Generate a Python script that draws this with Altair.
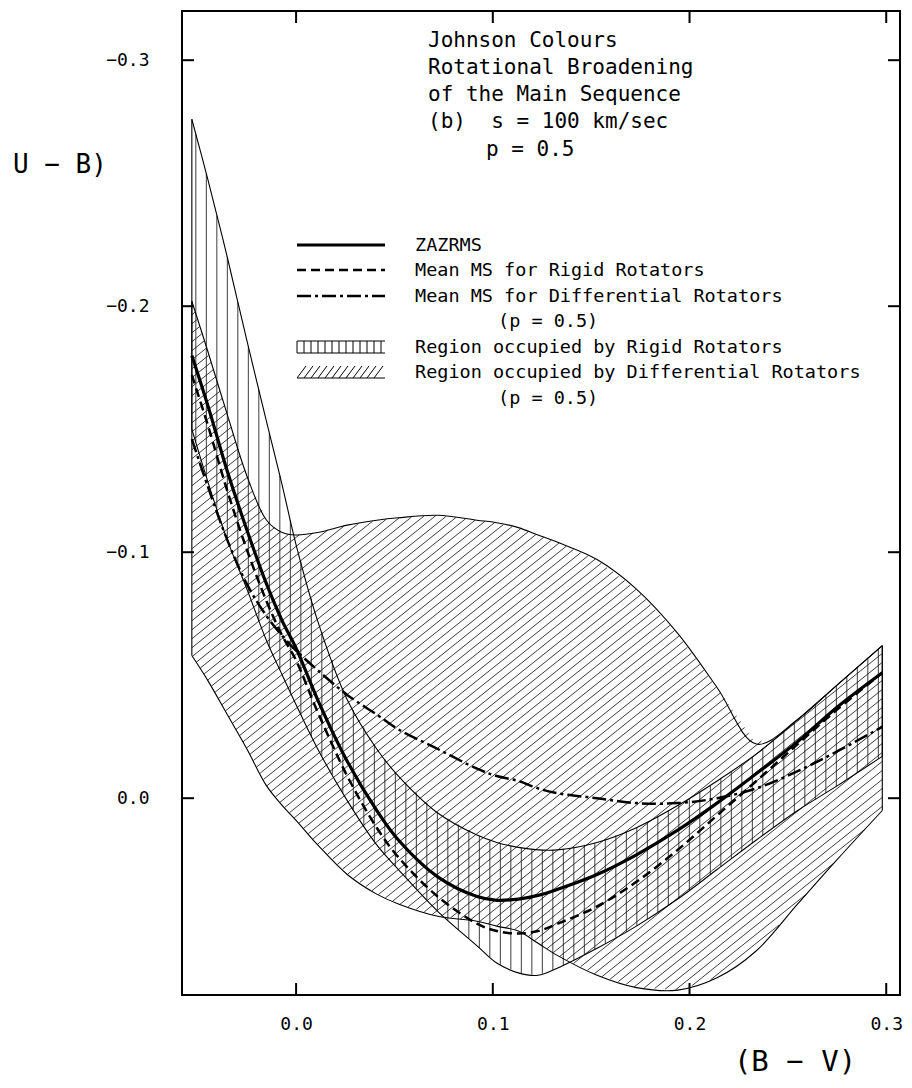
import altair as alt
import numpy as np
import pandas as pd

# ---------------- data ----------------
bv = [-0.053, -0.045, -0.035, -0.025, -0.015, -0.007, 0.0, 0.011, 0.026, 0.041, 0.052,
      0.072, 0.092, 0.102, 0.113, 0.123, 0.133, 0.153, 0.173, 0.194, 0.214, 0.234,
      0.255, 0.275, 0.298]

rigid_upper = [-0.276, -0.252, -0.220, -0.186, -0.153, -0.127, -0.103, -0.072, -0.040, -0.020,
               -0.009, 0.006, 0.015, 0.018, 0.020, 0.021, 0.021, 0.018, 0.012, 0.003, -0.007,
               -0.018, -0.032, -0.046, -0.062]
rigid_lower = [-0.150, -0.129, -0.105, -0.085, -0.064, -0.050, -0.038, -0.020, 0.001, 0.019,
               0.029, 0.046, 0.060, 0.067, 0.071, 0.072, 0.069, 0.061, 0.052, 0.041, 0.029,
               0.017, 0.005, -0.005, -0.017]
diff_upper = [-0.202, -0.182, -0.156, -0.131, -0.113, -0.108, -0.107, -0.108, -0.111, -0.113,
              -0.114, -0.115, -0.113, -0.112, -0.110, -0.107, -0.104, -0.097, -0.085, -0.067,
              -0.045, -0.022, -0.032, -0.046, -0.062]
diff_lower = [-0.058, -0.048, -0.034, -0.020, -0.005, 0.003, 0.009, 0.019, 0.031, 0.039,
              0.043, 0.048, 0.050, 0.052, 0.054, 0.059, 0.064, 0.072, 0.077, 0.078, 0.073,
              0.062, 0.043, 0.025, 0.005]

zazrms = [-0.180, -0.160, -0.133, -0.109, -0.087, -0.072, -0.061, -0.040, -0.015, 0.005,
          0.017, 0.032, 0.040, 0.0415, 0.041, 0.0395, 0.037, 0.031, 0.023, 0.013, 0.002,
          -0.010, -0.023, -0.037, -0.051]
rigid_mean = [-0.172, -0.152, -0.125, -0.101, -0.080, -0.066, -0.056, -0.035, -0.009, 0.012,
              0.024, 0.040, 0.051, 0.054, 0.055, 0.054, 0.051, 0.044, 0.034, 0.021, 0.007,
              -0.007, -0.022, -0.036, -0.051]
diff_mean = [-0.146, -0.127, -0.105, -0.087, -0.074, -0.066, -0.060, -0.052, -0.042, -0.034,
             -0.028, -0.020, -0.012, -0.009, -0.007, -0.004, -0.002, 0.000, 0.002, 0.002,
             0.000, -0.004, -0.011, -0.019, -0.029]

x_ticks = [0.0, 0.1, 0.2, 0.3]
y_ticks = [-0.3, -0.2, -0.1, 0.0]

title_lines = ["Johnson Colours", "Rotational Broadening", "of the Main Sequence",
               "(b)\u00a0\u00a0s = 100 km/sec", "p = 0.5"]
legend_labels = ["ZAZRMS", "Mean MS for Rigid Rotators", "Mean MS for Differential Rotators",
                 "(p = 0.5)", "Region occupied by Rigid Rotators",
                 "Region occupied by Differential Rotators", "(p = 0.5)"]
x_title = "(B \u2212 V)"
y_title = "U \u2212 B)"

# ---------------- layout ----------------
FONT = "DejaVu Sans Mono"
XMIN, XMAX = -0.058, 0.307
YMIN, YMAX = -0.32, 0.08
W, H = 718, 984
SX = W / (XMAX - XMIN)
SY = H / (YMAX - YMIN)
INTERP = "catmull-rom"
OX, OY = 182, 11  # page position of the plot origin

xsc = alt.Scale(domain=[XMIN, XMAX], nice=False, zero=False)
ysc = alt.Scale(domain=[YMIN, YMAX], nice=False, zero=False, reverse=True)
x_axis = alt.Axis(values=x_ticks, format=".1f", ticks=False, domain=False, grid=False,
                  labelFontSize=18, labelFont=FONT, labelColor="black", labelPadding=20,
                  labelBound=False, labelFlush=False, title=None)
y_axis = alt.Axis(values=y_ticks, format=".1f",
                  ticks=False, domain=False, grid=False, labelFontSize=18, labelFont=FONT,
                  labelColor="black", labelPadding=33, title=None)


def X(f="x"):
    return alt.X(f"{f}:Q", scale=xsc, axis=x_axis)


def Y(f="y"):
    return alt.Y(f"{f}:Q", scale=ysc, axis=y_axis)


# ---------------- hatching (derived from region boundaries) ----------------
xb = np.array(bv)
Xf = np.arange(xb[0] * SX, xb[-1] * SX, 0.4)

# diagonal hatch for the differential-rotator region
du = np.interp(Xf, xb * SX, np.array(diff_upper) * SY)
dl = np.interp(Xf, xb * SX, np.array(diff_lower) * SY)
m, gap = 0.8, 9.0
segs = []
cmin, cmax = (du + m * Xf).min(), (dl + m * Xf).max()
for c in np.arange(cmin + gap / 2, cmax, gap):
    Yl = c - m * Xf
    inside = ((Yl >= du) & (Yl <= dl)).astype(int)
    d = np.diff(np.concatenate([[0], inside, [0]]))
    for s, e in zip(np.where(d == 1)[0], np.where(d == -1)[0] - 1):
        if e > s:
            segs.append((Xf[s] / SX, Yl[s] / SY, Xf[e] / SX, Yl[e] / SY))
diag_df = pd.DataFrame(segs, columns=["x", "y", "x2", "y2"])

# vertical hatch for the rigid-rotator region
vx = np.arange(xb[0] * SX + 4, xb[-1] * SX, 10.5) / SX
vert_df = pd.DataFrame({"x": vx,
                        "y": np.interp(vx, xb, rigid_upper),
                        "y2": np.interp(vx, xb, rigid_lower)})

hatch_color = "#1a1a1a"
diag = alt.Chart(diag_df).mark_rule(color=hatch_color, strokeWidth=0.85).encode(
    x=X(), y=Y(), x2="x2:Q", y2="y2:Q")
vert = alt.Chart(vert_df).mark_rule(color=hatch_color, strokeWidth=0.85).encode(
    x=X(), y=Y(), y2="y2:Q")

# region boundaries
bdf = pd.DataFrame({"x": bv, "ru": rigid_upper, "rl": rigid_lower,
                    "du": diff_upper, "dl": diff_lower,
                    "z": zazrms, "rm": rigid_mean, "dm": diff_mean})
bounds = [alt.Chart(bdf).mark_line(color="black", strokeWidth=1.1, interpolate=INTERP)
          .encode(x=X(), y=Y(k)) for k in ["ru", "rl", "du", "dl"]]
edge_df = pd.DataFrame({
    "x": [bv[0], bv[0], bv[-1], bv[-1]],
    "y": [rigid_upper[0], diff_upper[0], rigid_upper[-1], diff_upper[-1]],
    "y2": [rigid_lower[0], diff_lower[0], rigid_lower[-1], diff_lower[-1]],
})
edges = alt.Chart(edge_df).mark_rule(color="black", strokeWidth=1.1).encode(
    x=X(), y=Y(), y2="y2:Q")

# mean lines
l_z = alt.Chart(bdf).mark_line(color="black", strokeWidth=3.2, interpolate=INTERP).encode(
    x=X(), y=Y("z"))
l_r = alt.Chart(bdf).mark_line(color="black", strokeWidth=2.5, strokeDash=[9, 5],
                               interpolate=INTERP).encode(x=X(), y=Y("rm"))
l_d = alt.Chart(bdf).mark_line(color="black", strokeWidth=2.5, strokeDash=[14, 4, 3, 4],
                               interpolate=INTERP).encode(x=X(), y=Y("dm"))

# inward ticks on all four sides
yt = pd.DataFrame({"y": y_ticks})
xt = pd.DataFrame({"x": x_ticks})
TL = 12
ticks = [
    alt.Chart(yt).mark_rule(color="black", strokeWidth=2).encode(
        y=Y(), x=alt.value(0), x2=alt.value(TL)),
    alt.Chart(yt).mark_rule(color="black", strokeWidth=2).encode(
        y=Y(), x=alt.value(W - TL), x2=alt.value(W)),
    alt.Chart(xt).mark_rule(color="black", strokeWidth=2).encode(
        x=X(), y=alt.value(H - TL), y2=alt.value(H)),
    alt.Chart(xt).mark_rule(color="black", strokeWidth=2).encode(
        x=X(), y=alt.value(0), y2=alt.value(TL)),
]

# ---------------- texts ----------------
one = pd.DataFrame({"a": [0]})


def txt(s, px, py, size, align="left"):
    return alt.Chart(one).mark_text(text=s, font=FONT, fontSize=size, color="black",
                                    align=align, baseline="middle").encode(
        x=alt.value(px - OX), y=alt.value(py - OY))


title_y = [41, 68, 95, 122, 150]
title_x = [428, 428, 428, 428, 486]
texts = [txt(s, xx, yy, 21) for s, xx, yy in zip(title_lines, title_x, title_y)]

leg_y = [245, 270, 296, 321, 347, 372, 398]
leg_x = [415, 415, 415, 498, 415, 415, 498]
texts += [txt(s, xx, yy, 18.5) for s, xx, yy in zip(legend_labels, leg_x, leg_y)]
texts.append(txt(y_title, 13, 165, 26))
texts.append(txt(x_title, 795, 1062, 29, align="center"))

# legend samples (pixel space)
L0, L1 = 297 - OX, 385 - OX


def lrule(y, dash=None, sw=2.5):
    kw = {"strokeDash": dash} if dash else {}
    return alt.Chart(one).mark_rule(color="black", strokeWidth=sw, **kw).encode(
        x=alt.value(L0), x2=alt.value(L1), y=alt.value(y - OY), y2=alt.value(y - OY))


leg = [lrule(245, sw=3.2), lrule(270, [9, 5]), lrule(296, [14, 4, 3, 4])]
# rigid sample: box with vertical strokes
ry0, ry1 = 341 - OY, 353 - OY
rv = np.arange(L0, L1 + 1, 7.0)
leg.append(alt.Chart(pd.DataFrame({"px": rv})).mark_rule(color="black", strokeWidth=1).encode(
    x=alt.X("px:Q", scale=None), y=alt.value(ry0), y2=alt.value(ry1)))
leg.append(alt.Chart(pd.DataFrame({"py": [ry0, ry1]})).mark_rule(color="black", strokeWidth=1).encode(
    y=alt.Y("py:Q", scale=None), x=alt.value(L0), x2=alt.value(L1)))
# differential sample: slanted strokes over a base line
dy0, dy1 = 366 - OY, 378 - OY
dv = np.arange(L0, L1 - 8, 7.0)
leg.append(alt.Chart(pd.DataFrame({"px": dv, "px2": dv + 9})).mark_rule(color="black", strokeWidth=1).encode(
    x=alt.X("px:Q", scale=None), x2="px2:Q", y=alt.value(dy1), y2=alt.value(dy0)))
leg.append(alt.Chart(one).mark_rule(color="black", strokeWidth=1).encode(
    x=alt.value(L0), x2=alt.value(L1), y=alt.value(dy1), y2=alt.value(dy1)))

RIGHT_PAD = 896 - (OX - 8) - W
chart = alt.layer(diag, vert, *bounds, edges, l_z, l_r, l_d, *ticks, *texts, *leg).properties(
    width=W, height=H, background="white",
    padding={"left": OX - 8, "top": OY - 8, "right": RIGHT_PAD, "bottom": 84},
    autosize=alt.AutoSizeParams(type="none"),
).configure_view(stroke="black", strokeWidth=2)

chart.save("out.html", embed_options={"renderer": "svg", "actions": False})
